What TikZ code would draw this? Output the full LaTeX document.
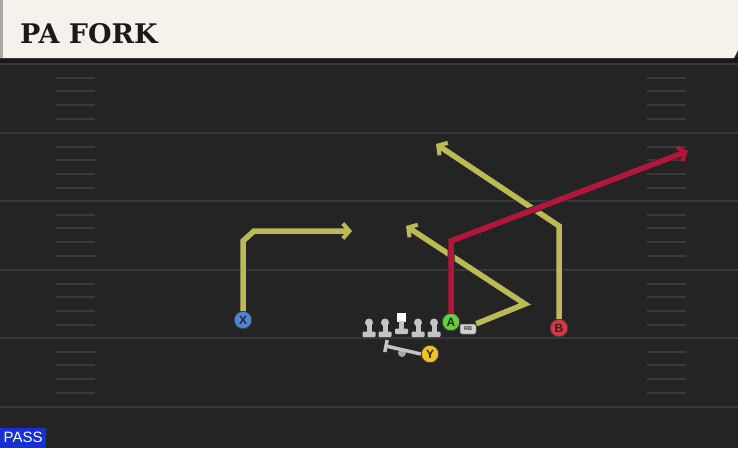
\documentclass[tikz,border=0pt]{standalone}
\usepackage{fontspec}
\setmainfont{Liberation Sans}
\newfontfamily\titlefont{DejaVu Serif}
\usetikzlibrary{arrows.meta}
\definecolor{fieldbg}{HTML}{242424}
\definecolor{yardgray}{HTML}{383838}
\definecolor{hashgray}{HTML}{3A3A3A}
\definecolor{titlebg}{HTML}{F4F2EB}
\definecolor{titleedge}{HTML}{A8A8A8}
\definecolor{titleink}{HTML}{1A1A1A}
\definecolor{routeyellow}{HTML}{BCBA55}
\definecolor{routered}{HTML}{B3163A}
\definecolor{xblue}{HTML}{4F84DC}
\definecolor{bred}{HTML}{E2343E}
\definecolor{agreen}{HTML}{62D040}
\definecolor{yyellow}{HTML}{F2C21E}
\definecolor{linegray}{HTML}{C4C4C4}
\definecolor{passblue}{HTML}{1530D8}
\tikzstyle{yardline}=[line width=2pt,draw=yardgray]
\tikzstyle{hashmark}=[line width=2pt,draw=hashgray]
\tikzstyle{player}=[circle,minimum size=17.5pt,inner sep=0pt,draw=black!75,line width=0.9pt,text=black!85,font=\bfseries\fontsize{12}{12}\selectfont]
\tikzstyle{route}=[line width=5.5pt,draw=routeyellow,line join=miter,preaction={draw=black!85,line width=7pt},-{Straight Barb[length=6.5pt,width=15pt,line width=4pt]}]
\tikzstyle{rbtag}=[rectangle,rounded corners=2pt,minimum width=16pt,minimum height=10pt,inner sep=0pt,fill=linegray!80,draw=black!60,line width=0.5pt,text=black!80,font=\bfseries\fontsize{5.5}{5.5}\selectfont]
\tikzstyle{blockline}=[line width=3.5pt,draw=linegray]
\tikzstyle{passtag}=[rectangle,fill=passblue,text=white,minimum width=46pt,minimum height=20pt,inner sep=0pt,font=\fontsize{15}{15}\selectfont]

\begin{document}
\begin{tikzpicture}[x=1pt,y=-1pt]
    \useasboundingbox (0,0) rectangle (738,448);
    % field
    \fill[fieldbg] (0,0) rectangle (738,448);
    \foreach \y in {64,133,201,270,338,407}
        \draw[yardline] (0,\y) -- (738,\y);
    \foreach \y in {64,133,201,270,338}
        \foreach \k in {1,...,4} {
            \draw[hashmark] (56,\y+13.7*\k) -- (95,\y+13.7*\k);
            \draw[hashmark] (647,\y+13.7*\k) -- (686,\y+13.7*\k);
        }
    % title bar
    \fill[black!90] (0,57) rectangle (738,63);
    \fill[titlebg] (0,0) -- (738,0) -- (738,50) -- (734,58) -- (0,58) -- cycle;
    \fill[titleedge] (0,0) rectangle (3,58);
    \node (title)[anchor=base west,inner sep=0pt,text=titleink,font=\titlefont\bfseries\fontsize{27}{27}\selectfont] at (20,43) {PA FORK};
    % line
    \foreach \c in {369,385,418,434} {
        \fill[linegray] (\c,322.5) circle (4);
        \fill[linegray] (\c-2.5,324) rectangle (\c+2.5,334);
        \fill[linegray,rounded corners=1pt] (\c-6.5,331.5) rectangle (\c+6.5,337);
    }
    \fill[white] (397,313) rectangle (406,322);
    \fill[linegray] (399,321) rectangle (404,330);
    \fill[linegray,rounded corners=1pt] (395,328.5) rectangle (408,334);
    % players
    \node (x)[player,fill=xblue] at (243,320) {X};
    \node (b)[player,fill=bred] at (559,328) {B};
    \node (a)[player,fill=agreen] at (451,322) {A};
    \node (y)[player,fill=yyellow] at (430,354) {Y};
    \node (rb)[rbtag] at (468,329) {RB};
    % block
    \coordinate (blockend) at (386,346);
    \fill[gray!70] (402,353) circle (4);
    \draw[blockline] (y.west) -- (blockend);
    \draw[blockline] (387.2,340) -- (384.8,352);
    % routes
    \coordinate (xbreak) at (243,241);
    \coordinate (xbend) at (254,231);
    \coordinate (xend) at (352,231);
    \coordinate (abreak) at (451,241);
    \coordinate (aend) at (688,151);
    \coordinate (rbbreak) at (525,304);
    \coordinate (rbend) at (406,226);
    \coordinate (bbreak) at (559,226);
    \coordinate (bend) at (436,144);
    \draw[route] (x) -- (xbreak) -- (xbend) -- (xend);
    \draw[route] (rb.north east) -- (rbbreak) -- (rbend);
    \draw[route] (b) -- (bbreak) -- (bend);
    \draw[route,draw=routered] (a) -- (abreak) -- (aend);
    % play type
    \node (pass)[passtag,anchor=south west] at (0,448) {PASS};
\end{tikzpicture}
\end{document}
